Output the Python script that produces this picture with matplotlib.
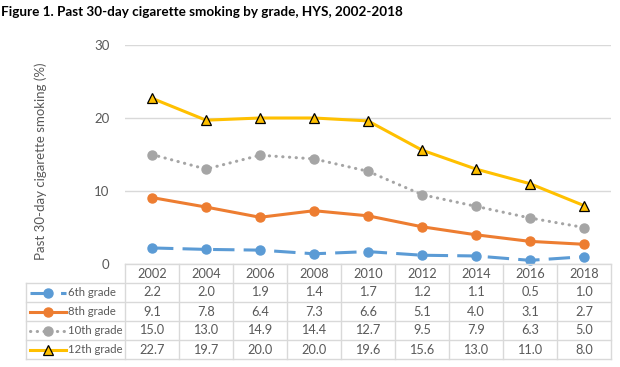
import matplotlib
matplotlib.use("Agg")
import matplotlib.pyplot as plt

years = ["2002", "2004", "2006", "2008", "2010", "2012", "2014", "2016", "2018"]
grade6 = [2.2, 2.0, 1.9, 1.4, 1.7, 1.2, 1.1, 0.5, 1.0]
grade8 = [9.1, 7.8, 6.4, 7.3, 6.6, 5.1, 4.0, 3.1, 2.7]
grade10 = [15.0, 13.0, 14.9, 14.4, 12.7, 9.5, 7.9, 6.3, 5.0]
grade12 = [22.7, 19.7, 20.0, 20.0, 19.6, 15.6, 13.0, 11.0, 8.0]
labels = ["6th grade", "8th grade", "10th grade", "12th grade"]

plt.rcParams["font.family"] = ["Lato", "DejaVu Sans"]
txt = "#595959"
grid = "#d9d9d9"

styles = [
    dict(color="#5B9BD5", ls=(0, (7, 3)), marker="o", ms=6.5, mec="#5B9BD5"),
    dict(color="#ED7D31", ls="-", marker="o", ms=6.5, mec="#ED7D31"),
    dict(color="#A5A5A5", ls=(0, (0.1, 2.1)), marker="o", ms=6.5, mec="#A5A5A5",
         dash_capstyle="round"),
    dict(color="#FFC000", ls="-", marker="^", ms=6.5, mec="black", mew=0.9),
]
series = [grade6, grade8, grade10, grade12]

W, H = 620, 367
fig = plt.figure(figsize=(6.2, 3.67), dpi=100)

def px(x0, y0, x1, y1):
    return [x0 / W, (H - y1) / H, (x1 - x0) / W, (y1 - y0) / H]

fig.text(1 / W, 1 - 12 / H, "Figure 1. Past 30-day cigarette smoking by grade, HYS, 2002-2018",
         fontsize=9.7, fontweight="bold", color="black", va="center", ha="left")

ax = fig.add_axes(px(125, 45, 611, 264))
xs = list(range(len(years)))
for vals, st in zip(series, styles):
    ax.plot(xs, vals, lw=2.2, clip_on=False, **st)
ax.set_xlim(-0.5, len(years) - 0.5)
ax.set_ylim(0, 30)
ax.set_yticks([0, 10, 20, 30])
ax.set_xticks([])
ax.grid(axis="y", color=grid, lw=1)
ax.set_axisbelow(True)
for s in ax.spines.values():
    s.set_visible(False)
ax.tick_params(axis="y", length=0, pad=11, labelcolor=txt, labelsize=9.5)
ax.set_ylabel("Past 30-day cigarette smoking (%)", color=txt, fontsize=9.5)
ax.yaxis.set_label_coords((47 - 125) / 486, (264 - 161) / 219)

# data table below the plot
tax = fig.add_axes(px(26, 264, 611, 359))
left = -0.5 - (125 - 26) / 54
tax.set_xlim(left, len(years) - 0.5)
tax.set_ylim(5, 0)
tax.axis("off")
n = len(years)
tax.plot([-0.5, n - 0.5], [0, 0], color=grid, lw=1, clip_on=False)
for r in range(1, 6):
    tax.plot([left, n - 0.5], [r, r], color=grid, lw=1, clip_on=False)
for c in range(n + 1):
    tax.plot([c - 0.5, c - 0.5], [0, 5], color=grid, lw=1, clip_on=False)
tax.plot([left, left], [1, 5], color=grid, lw=1, clip_on=False)
for i, y in enumerate(years):
    tax.text(i, 0.5, y, ha="center", va="center", color=txt, fontsize=9.2)
for r, (vals, st, lab) in enumerate(zip(series, styles, labels)):
    yy = r + 1.5
    for i, v in enumerate(vals):
        tax.text(i, yy, f"{v:.1f}", ha="center", va="center", color=txt, fontsize=9.2)
    x0 = left + (30 - 26) / 54
    x1 = left + (66 - 26) / 54
    xm = left + (48 - 26) / 54
    kw = {k: v for k, v in st.items() if k not in ("marker", "ms", "mec", "mew")}
    tax.plot([x0, x1], [yy, yy], lw=2.2, clip_on=False, **kw)
    tax.plot([xm], [yy], ls="none", clip_on=False, color=st["color"], marker=st["marker"],
             ms=st["ms"], mec=st["mec"], mew=st.get("mew", 1))
    tax.text(left + (68 - 26) / 54, yy, lab, ha="left", va="center", color=txt, fontsize=8.2)

fig.savefig("out.png", dpi=100)
